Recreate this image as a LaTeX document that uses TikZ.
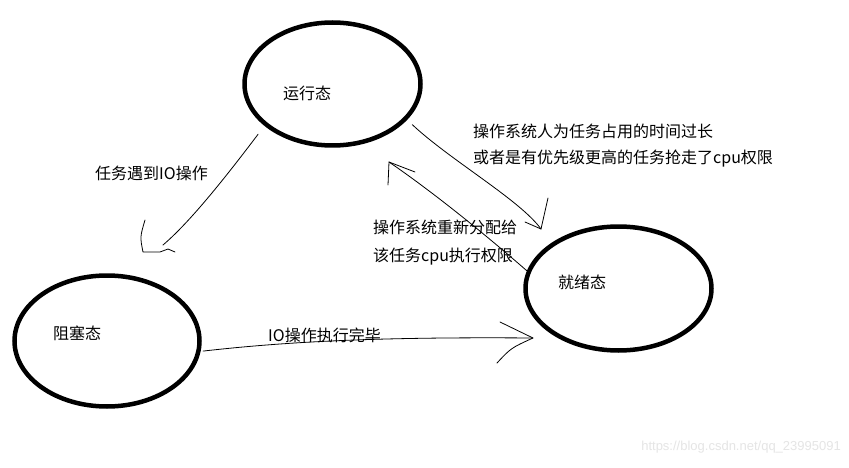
\documentclass[tikz,border=0pt]{standalone}
\usepackage{fontspec}
\setmainfont{Noto Sans CJK SC}
\newfontfamily\markfont{Liberation Sans}
\usepackage{tikz}
\usetikzlibrary{
  shapes.geometric,%
  calc,%
  positioning
}
\tikzset{>=latex}
\tikzset{ring/.style={ellipse, draw, line width=4.5pt, inner sep=0pt, outer sep=0pt}}
\tikzset{pen/.style={line width=0.8pt, line cap=round, line join=round}}
\tikzset{caption/.style={font=\fontsize{16}{26}\selectfont, inner sep=0pt, align=left}}

\begin{document}
\begin{tikzpicture}[x=1pt, y=-1pt]
  \useasboundingbox[fill=white] (0,0) rectangle (849,468); %
  % the three states
  \node[ring, minimum width=176pt, minimum height=123pt] (run) at (332.5,84) {}; %
  \node[ring, minimum width=185pt, minimum height=131pt] (block) at (107,341) {}; %
  \node[ring, minimum width=186pt, minimum height=124pt] (ready) at (618.5,288.5) {}; %
  \node[caption] (runtxt) at (307,93) {运行态}; %
  \node[caption] (blocktxt) at (77,333) {阻塞态}; %
  \node[caption] (readytxt) at (582,282) {就绪态}; %
  % tips of the hand drawn arrows
  \coordinate (tipA) at (143,252); %
  \coordinate (tipB) at (541,229); %
  \coordinate (tipC) at (389,162); %
  \coordinate (tipD) at (533,338); %
  % running -> blocked
  \draw[pen] ($(run.center)!1.174!(run.214)$) .. controls (225,178) and (190,222) .. ([shift={(20,-7)}]tipA); %
  \draw[pen] ([shift={(2,-32)}]tipA) .. controls ([shift={(-3,-15)}]tipA) .. (tipA) -- ([shift={(17,0)}]tipA) -- ([shift={(25,-3)}]tipA) -- ([shift={(32,0)}]tipA); %
  % running -> ready
  \draw[pen] ($(run.center)!1.122!(run.333)$) .. controls (450,160) and (520,200) .. (tipB); %
  \draw[pen] ([shift={(7,-31)}]tipB) -- (tipB) -- ([shift={(-16,-7)}]tipB); %
  % ready -> running
  \draw[pen] ($(ready.center)!1.028!(ready.169)$) .. controls (480,230) and (430,190) .. (tipC); %
  \draw[pen] ([shift={(26,10)}]tipC) -- (tipC) -- ([shift={(-1,23)}]tipC); %
  % blocked -> ready
  \draw[pen] ($(block.center)!1.05!(block.354)$) .. controls (300,340) and (400,337) .. (tipD); %
  \draw[pen] ([shift={(-33,-16)}]tipD) -- (tipD) .. controls ([shift={(-22,10)}]tipD) .. ([shift={(-36,25)}]tipD); %
  % labels of the transitions
  \node[caption, anchor=west] (ioin) at (95,173) {任务遇到IO操作}; %
  \node[caption, anchor=west] (preempt) at (473,146) {操作系统人为任务占用的时间过长\\或者是有优先级更高的任务抢走了cpu权限}; %
  \node[caption, anchor=west, font=\fontsize{16}{28}\selectfont] (resched) at (373,243) {操作系统重新分配给\\该任务cpu执行权限}; %
  \node[caption, anchor=west] (iodone) at (268,335) {IO操作执行完毕}; %
  \node[font=\markfont\fontsize{13}{13}\selectfont, text=black!10, anchor=east, inner sep=0pt] (mark) at (841,447) {https://blog.csdn.net/qq\_23995091}; %
\end{tikzpicture}
\end{document}
